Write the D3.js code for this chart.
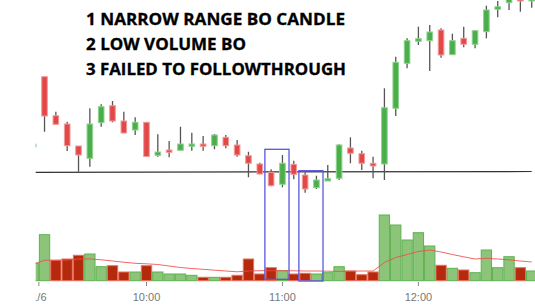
<!DOCTYPE html>
<html>
<head>
<meta charset="utf-8">
<script src="https://cdn.jsdelivr.net/npm/d3@7"></script>
<style>
  body { margin: 0; background: #fff; }
  svg { display: block; }
</style>
</head>
<body>
<div id="chart"></div>
<script>
// 5 minute bars, bar 0 = last bar of previous session, bar 1 = 9:15 on 1/6
const open  = [245.30,252.33,248.43,247.60,245.40,244.17,247.73,249.43,247.90,247.00,
               247.77,244.47,245.00,244.97,245.37,245.60,245.43,246.27,245.50,244.43,
               243.60,242.77,241.57,243.57,242.50,241.23,241.90,242.17,245.20,244.63,
               243.67,243.60,249.17,253.67,255.87,255.93,257.00,254.53,256.17,255.57,
               256.83,259.07,259.73,260.20,259.90];
const high  = [245.80,252.33,248.83,247.83,245.40,249.17,249.57,249.90,248.83,248.27,
               247.77,246.57,245.90,247.33,246.73,246.40,246.60,246.50,246.00,244.83,
               243.73,243.07,244.50,243.93,242.77,242.43,243.50,245.57,246.27,244.93,
               244.33,251.17,254.33,256.17,257.33,257.50,257.17,256.63,257.33,257.00,
               259.43,259.90,260.40,260.40,260.40];
const low   = [245.10,246.83,247.57,244.90,242.83,243.33,247.33,247.77,246.67,246.50,
               244.35,244.33,244.27,244.97,244.93,244.93,245.07,245.17,244.33,242.27,
               242.57,241.37,241.27,242.07,240.73,241.10,241.90,242.00,243.67,243.00,
               242.17,242.00,248.40,253.17,255.50,252.90,254.23,254.53,255.27,255.17,
               256.17,258.27,259.00,258.83,259.23];
const close = [245.60,248.40,247.57,245.43,244.50,247.60,249.33,247.90,246.70,247.77,
               244.35,244.80,244.77,245.60,245.60,245.37,246.50,245.43,244.50,243.67,
               242.60,241.43,243.67,242.57,241.10,242.00,242.13,245.50,244.67,243.67,
               243.40,249.23,253.77,255.93,256.13,256.80,254.50,255.93,255.57,256.93,
               259.00,259.33,260.20,259.90,260.20];

// volume (thousands), bar colour flag and the volume average line
const volume    = [174,460,204,217,254,267,140,150,87,87,
                   150,87,67,67,54,34,34,34,54,217,
                   67,130,100,67,74,67,80,140,97,60,
                   87,657,557,407,480,347,154,124,107,80,
                   307,130,240,130,97];
const volumeUp  = [1,1,0,0,0,1,1,0,0,1,
                   0,1,1,1,1,0,1,0,0,0,
                   0,0,1,0,0,1,1,1,0,0,
                   0,1,1,1,1,1,0,1,0,1,
                   1,1,1,0,1];
const volumeAvg = [165,204,205,207,217,218,209,197,185,174,
                   169,162,147,132,122,114,105,97,89,97,
                   100,100,100,99,97,97,95,93,95,97,
                   97,182,232,262,292,307,287,262,239,217,
                   224,217,209,197,187];

const tickIndex  = [0.5, 10, 22, 34];
const tickLabels = ["1/6", "10:00", "11:00", "12:00"];

const supportLevel = [242.77, 242.85];   // start / end of the drawn level
const notes = ["1 NARROW RANGE BO CANDLE", "2 LOW VOLUME BO", "3 FAILED TO FOLLOWTHROUGH"];
const noteWidths = [259, 160, 260];

// highlighted bar groups: first / last bar, top price, bottom volume
const boxFrom = [21, 24];
const boxTo = [22, 25];
const boxTop = [245.07, 242.93];
const boxBottom = [14, -3];

const width = 535, height = 305;

const svg = d3.select('#chart')
  .append('svg')
  .attr('width', width)
  .attr('height', height);

const x = d3.scaleLinear().domain([0, 44]).range([33.2, 531.7]);
const step = x(1) - x(0);
const y = d3.scaleLinear().domain([241, 260]).range([190, 0]);
const yVol = d3.scaleLinear().domain([0, 700]).range([280.7, 210.7]);

svg.append('clipPath')
  .attr('id', 'clip')
  .append('rect')
  .attr('x', 35.7).attr('y', 0)
  .attr('width', width - 35.7).attr('height', height);

const g = svg.append('g').attr('clip-path', 'url(#clip)');

const idx = d3.range(open.length);

// volume bars
g.selectAll('rect.vol')
  .data(idx)
  .enter()
  .append('rect')
  .attr('class', 'vol')
  .attr('x', i => x(i) - step / 2 + 0.5)
  .attr('width', step - 1)
  .attr('y', i => yVol(volume[i]))
  .attr('height', i => yVol(0) - yVol(volume[i]))
  .attr('fill', i => volumeUp[i] ? '#8cc57a' : '#b5290c')
  .attr('stroke', i => volumeUp[i] ? '#5cb250' : '#e8705c')
  .attr('stroke-width', 1);

// volume average
g.append('path')
  .datum(idx)
  .attr('fill', 'none')
  .attr('stroke', '#ee4b4b')
  .attr('stroke-opacity', 0.85)
  .attr('stroke-width', 1)
  .attr('d', d3.line().x(i => x(i)).y(i => yVol(volumeAvg[i])));

// support level
g.append('line')
  .attr('x1', x(0)).attr('y1', y(supportLevel[0]))
  .attr('x2', x(44)).attr('y2', y(supportLevel[1]))
  .attr('stroke', '#333')
  .attr('stroke-width', 1.2);

// candles
const candle = g.selectAll('g.candle')
  .data(idx)
  .enter()
  .append('g')
  .attr('class', 'candle');

candle.append('line')
  .attr('x1', i => x(i)).attr('x2', i => x(i))
  .attr('y1', i => y(high[i]))
  .attr('y2', i => y(low[i]))
  .attr('stroke', '#555')
  .attr('stroke-width', 1.3);

candle.append('rect')
  .attr('x', i => x(i) - 2.8)
  .attr('width', 5.6)
  .attr('y', i => y(Math.max(open[i], close[i])))
  .attr('height', i => Math.max(1, Math.abs(y(open[i]) - y(close[i]))))
  .attr('fill', i => close[i] >= open[i] ? '#4aae4a' : '#e24848')
  .attr('stroke', i => close[i] >= open[i] ? '#8ed48e' : '#f39a9a')
  .attr('stroke-width', 1);

// highlight boxes
svg.selectAll('rect.box')
  .data(boxFrom)
  .enter()
  .append('rect')
  .attr('class', 'box')
  .attr('x', (d, k) => x(boxFrom[k]) - step * 0.55)
  .attr('width', (d, k) => x(boxTo[k]) - x(boxFrom[k]) + step * 1.13)
  .attr('y', (d, k) => y(boxTop[k]))
  .attr('height', (d, k) => yVol(boxBottom[k]) - y(boxTop[k]))
  .attr('fill', 'none')
  .attr('stroke', '#5858dc')
  .attr('stroke-width', 1.3);

// time axis
const axis = g.append('g');
axis.selectAll('line')
  .data(tickIndex)
  .enter()
  .append('line')
  .attr('x1', d => x(d)).attr('x2', d => x(d))
  .attr('y1', 282).attr('y2', 286)
  .attr('stroke', '#888');
axis.selectAll('text')
  .data(tickIndex)
  .enter()
  .append('text')
  .attr('x', d => x(d))
  .attr('y', 300.5)
  .attr('text-anchor', 'middle')
  .style('font', '11px "Liberation Sans", Arial, sans-serif')
  .attr('fill', '#777')
  .text((d, k) => tickLabels[k]);

// notes
svg.selectAll('text.note')
  .data(notes)
  .enter()
  .append('text')
  .attr('class', 'note')
  .attr('x', 86)
  .attr('y', (d, k) => 25 + k * 25)
  .attr('textLength', (d, k) => noteWidths[k])
  .attr('lengthAdjust', 'spacingAndGlyphs')
  .style('font-family', '"Open Sans", sans-serif')
  .style('font-weight', 700)
  .style('font-size', '15.5px')
  .attr('fill', '#000')
  .attr('stroke', '#000')
  .attr('stroke-width', 0.3)
  .text(d => d);
</script>
</body>
</html>
